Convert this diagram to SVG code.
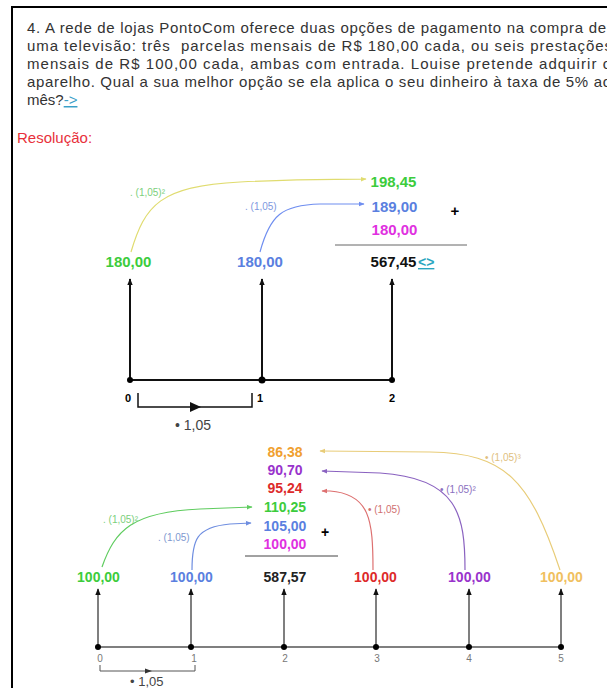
<svg xmlns="http://www.w3.org/2000/svg" width="607" height="688" viewBox="0 0 607 688">
<style>
text{font-family:"Liberation Sans",Arial,sans-serif}
.body{font-size:15px;fill:#333}
.num{font-size:15px;font-weight:bold;text-anchor:middle}
.numb{font-size:14px;font-weight:bold;text-anchor:middle}
.lbl{font-size:10px}
.ax{stroke:#111;stroke-width:2;fill:none}
.axb{stroke:#555;stroke-width:1.5;fill:none}
.cv{fill:none;stroke-width:1.2}
</style>
<defs>
<marker id="ah" viewBox="0 0 10 10" refX="9" refY="5" markerWidth="7" markerHeight="7" orient="auto" markerUnits="userSpaceOnUse"><path d="M0,1 L10,5 L0,9 Z" fill="#111"/></marker>
<marker id="ahs" viewBox="0 0 10 10" refX="9" refY="5" markerWidth="6" markerHeight="6" orient="auto" markerUnits="userSpaceOnUse"><path d="M0,1 L10,5 L0,9 Z" fill="context-stroke"/></marker>
</defs>
<rect width="607" height="688" fill="#fff"/>
<path d="M12,688 V7 H607" fill="none" stroke="#000" stroke-width="2"/>
<g id="enunciado">
<text class="body" x="27" y="33" textLength="579" lengthAdjust="spacing">4. A rede de lojas PontoCom oferece duas opções de pagamento na compra de</text>
<text class="body" x="27" y="51" textLength="585" lengthAdjust="spacing">uma televisão: três&#160; parcelas mensais de R$ 180,00 cada, ou seis prestações</text>
<text class="body" x="27" y="69" textLength="584" lengthAdjust="spacing">mensais de R$ 100,00 cada, ambas com entrada. Louise pretende adquirir o</text>
<text class="body" x="27" y="87" textLength="584" lengthAdjust="spacing">aparelho. Qual a sua melhor opção se ela aplica o seu dinheiro à taxa de 5% ao</text>
<text class="body" x="27" y="105">mês?<tspan fill="#3aa0c8" text-decoration="underline">-&gt;</tspan></text>
</g>
<text id="resolucao" x="17" y="143" style="font-size:15px;fill:#e8303a">Resolução:</text>
<g id="connectors">
<path class="cv" stroke="#e0dc70" d="M131,252 C145,205 160,186 240,182 S330,180 366,179" marker-end="url(#ahs)"/>
<path class="cv" stroke="#6f8ef0" d="M260,252 C270,215 282,205 320,204 L364,204" marker-end="url(#ahs)"/>
<path class="cv" stroke="#5fcc5f" d="M102,567 C115,530 132,512 200,509 L252,507" marker-end="url(#ahs)"/>
<path class="cv" stroke="#6f8ee0" d="M192,570 C192,540 196,527 230,524 L251,523" marker-end="url(#ahs)"/>
<path class="cv" stroke="#dd7070" d="M373,570 C373,520 370,494 330,491 L322,491" marker-end="url(#ahs)"/>
<path class="cv" stroke="#8a62c0" d="M465,570 C465,515 458,478 380,473 L322,471" marker-end="url(#ahs)"/>
<path class="cv" stroke="#e8cc78" d="M560,570 C530,480 505,453 430,452 L320,451" marker-end="url(#ahs)"/>
<path class="ax" d="M130,380 V279" marker-end="url(#ah)"/>
<path class="ax" d="M262,380 V279" marker-end="url(#ah)"/>
<path class="ax" d="M392,380 V279" marker-end="url(#ah)"/>
<path class="axb" d="M98,647 V589" marker-end="url(#ah)"/>
<path class="axb" d="M191,647 V589" marker-end="url(#ah)"/>
<path class="axb" d="M284,647 V589" marker-end="url(#ah)"/>
<path class="axb" d="M376,647 V589" marker-end="url(#ah)"/>
<path class="axb" d="M469,647 V589" marker-end="url(#ah)"/>
<path class="axb" d="M561,647 V589" marker-end="url(#ah)"/>
</g>
<g id="fluxo1">
<path class="ax" d="M130,380 H392"/>
<circle cx="130" cy="380" r="3"/><circle cx="262" cy="380" r="3.5"/><circle cx="392" cy="380" r="3"/>
<text x="128" y="402" style="font-size:11px;font-weight:bold;text-anchor:middle">0</text>
<text x="260" y="402" style="font-size:11px;font-weight:bold;text-anchor:middle">1</text>
<text x="392" y="402" style="font-size:11px;font-weight:bold;text-anchor:middle">2</text>
<path d="M138,393 V407 H252 V393" fill="none" stroke="#111" stroke-width="1.5"/>
<path d="M190,402 L201,407 L190,412 Z" fill="#111"/>
<text x="175" y="430" style="font-size:14px;fill:#444">• 1,05</text>
</g>
<g id="valores1">
<text class="num" x="128.5" y="267" fill="#3ccc3c">180,00</text>
<text class="num" x="260" y="267" fill="#5a7fe0">180,00</text>
<text class="num" x="393.5" y="267" fill="#111">567,45</text>
<text x="418" y="267" style="font-size:14px;font-weight:bold;fill:#2aa6c0" text-decoration="underline">&lt;&gt;</text>
<text class="num" x="393.5" y="187" fill="#3ccc3c">198,45</text>
<text class="num" x="394.5" y="212" fill="#5a7fe0">189,00</text>
<text class="num" x="394.5" y="235" fill="#e030e0">180,00</text>
<text x="455" y="216" style="font-size:15px;font-weight:bold;text-anchor:middle">+</text>
<path d="M335,245 H467" stroke="#666" stroke-width="1"/>
<text class="lbl" x="130" y="196" fill="#7ccf7c">. (1,05)²</text>
<text class="lbl" x="245" y="210" fill="#8098e0">. (1,05)</text>
</g>
<g id="fluxo2">
<path class="axb" d="M98,647 H561"/>
<circle cx="98" cy="647" r="3"/><circle cx="191" cy="647" r="3"/><circle cx="284" cy="647" r="3"/><circle cx="376" cy="647" r="3"/><circle cx="469" cy="647" r="3"/><circle cx="561" cy="647" r="3"/>
<g style="font-size:10px;fill:#777;text-anchor:middle">
<text x="100" y="662">0</text><text x="194" y="662">1</text><text x="285" y="662">2</text><text x="377" y="662">3</text><text x="469" y="662">4</text><text x="561" y="662">5</text>
</g>
<path d="M100,665 V671 H195 V665" fill="none" stroke="#555" stroke-width="1"/>
<path d="M145,668.5 L152,671 L145,673.5 Z" fill="#333"/>
<text x="130" y="686" style="font-size:13px;fill:#444">• 1,05</text>
</g>
<g id="valores2">
<text class="numb" x="98.5" y="582" fill="#3ccc3c">100,00</text>
<text class="numb" x="191.5" y="582" fill="#5a7fe0">100,00</text>
<text class="numb" x="285" y="582" fill="#222">587,57</text>
<text class="numb" x="375.5" y="582" fill="#dd2a2a">100,00</text>
<text class="numb" x="469.5" y="582" fill="#9933cc">100,00</text>
<text class="numb" x="561.5" y="582" fill="#f0c060">100,00</text>
<text class="numb" x="285" y="457" fill="#f0a030">86,38</text>
<text class="numb" x="285" y="475" fill="#9933cc">90,70</text>
<text class="numb" x="285" y="493" fill="#dd2a2a">95,24</text>
<text class="numb" x="285" y="512" fill="#3ccc3c">110,25</text>
<text class="numb" x="285" y="531" fill="#5a7fe0">105,00</text>
<text class="numb" x="285" y="549" fill="#e030e0">100,00</text>
<text x="325" y="537" style="font-size:14px;font-weight:bold;text-anchor:middle">+</text>
<path d="M245,556 H338" stroke="#444" stroke-width="1"/>
<text class="lbl" x="103" y="523" fill="#7ccf7c">. (1,05)²</text>
<text class="lbl" x="158" y="541" fill="#8098d0">. (1,05)</text>
<text class="lbl" x="368" y="513" fill="#d07070">• (1,05)</text>
<text class="lbl" x="440" y="493" fill="#8a70c0">• (1,05)²</text>
<text class="lbl" x="485" y="461" fill="#e0c080">• (1,05)³</text>
</g>
</svg>
